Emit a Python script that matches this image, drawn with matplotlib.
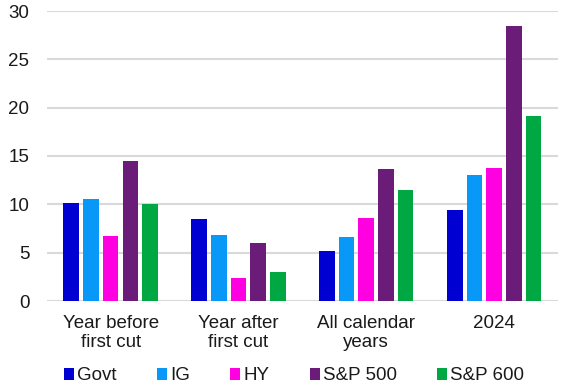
import numpy as np
import matplotlib.pyplot as plt

plt.rcParams['font.family'] = ['Liberation Sans', 'DejaVu Sans']

categories = ['Year before\nfirst cut', 'Year after\nfirst cut', 'All calendar\nyears', '2024']
series = ['Govt', 'IG', 'HY', 'S&P 500', 'S&P 600']
govt = [10.1, 8.45, 5.2, 9.4]
ig = [10.55, 6.85, 6.6, 13.0]
hy = [6.7, 2.4, 8.55, 13.8]
sp500 = [14.5, 6.0, 13.7, 28.5]
sp600 = [10.0, 3.0, 11.5, 19.15]
colors = ['#0000D2', '#0899F8', '#FF00E1', '#6A1C78', '#00A843']

values = [govt, ig, hy, sp500, sp600]

fig = plt.figure(figsize=(5.66, 3.85), dpi=100)
ax = fig.add_axes([46.7/566, 1 - 301/385, 511.3/566, 290/385])

x = np.arange(len(categories))
pitch = 0.154
for i, (name, vals, c) in enumerate(zip(series, values, colors)):
    ax.bar(x + (i - 2) * pitch, vals, 0.122, color=c, linewidth=0,
           label=name, zorder=3)

ax.set_xlim(-0.5, 3.5)
ax.set_ylim(0, 30)
ax.set_yticks(range(0, 31, 5))
ax.grid(axis='y', color='#D9D9D9', linewidth=1.5, zorder=0)
for s in ax.spines.values():
    s.set_visible(False)
ax.tick_params(axis='both', length=0, labelsize=13.5, colors='#1a1a1a')
ax.tick_params(axis='y', pad=12.5)
ax.tick_params(axis='x', pad=10)
ax.set_xticks(x)
ax.set_xticklabels(categories, linespacing=1.2)

fig.legend(loc='center', bbox_to_anchor=(294/566, 1 - 376/385), ncol=5, frameon=False,
           fontsize=13.5, handlelength=0.55, handleheight=0.55, handletextpad=0.15,
           columnspacing=2.15, labelcolor='#1a1a1a')

fig.savefig('out.png', dpi=100)
